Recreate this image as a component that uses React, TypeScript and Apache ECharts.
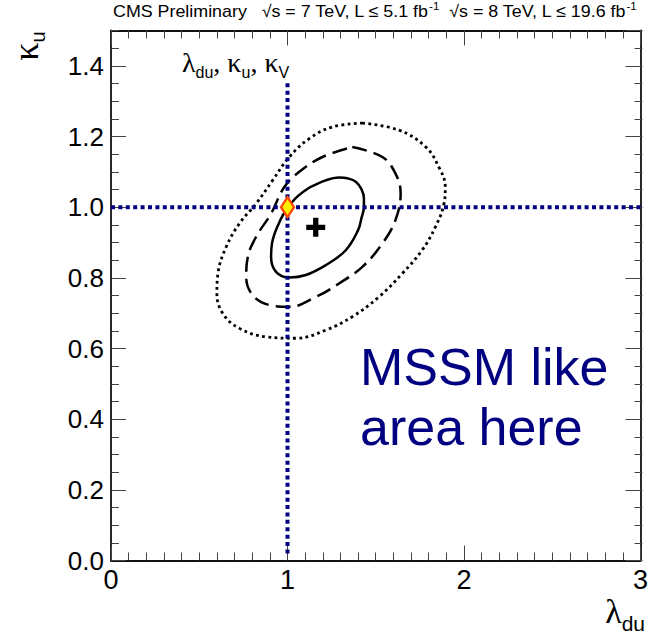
import React, { useEffect, useRef } from "react";
import * as echarts from "echarts";

// Axis ranges of the coupling plane
const xRange = [0, 3];
const yRange = [0, 1.5];

// Likelihood contours in the (lambda_du, kappa_u) plane
const contour68: [number, number][] = [
  [1.123, 1.055], [1.217, 1.076], [1.292, 1.084], [1.345, 1.081], [1.387, 1.072],
  [1.419, 1.051], [1.433, 1.025], [1.433, 1.000], [1.419, 0.969], [1.400, 0.935],
  [1.330, 0.878], [1.217, 0.836], [1.104, 0.808], [1.010, 0.801], [0.935, 0.817],
  [0.907, 0.859], [0.913, 0.900], [0.940, 0.942], [0.985, 0.987], [1.045, 1.025],
  [1.123, 1.055],
];

const contour95: [number, number][] = [
  [1.367, 1.170], [1.537, 1.142], [1.612, 1.095], [1.641, 1.039], [1.612, 0.964],
  [1.537, 0.897], [1.424, 0.831], [1.292, 0.784], [1.161, 0.746], [1.010, 0.718],
  [0.897, 0.723], [0.803, 0.751], [0.766, 0.803], [0.775, 0.859], [0.822, 0.916],
  [0.907, 0.982], [0.982, 1.057], [1.067, 1.100], [1.198, 1.142], [1.367, 1.170],
];

const contour997: [number, number][] = [
  [1.424, 1.238], [1.631, 1.218], [1.782, 1.171], [1.857, 1.114], [1.894, 1.057],
  [1.885, 1.006], [1.838, 0.944], [1.762, 0.878], [1.650, 0.812], [1.518, 0.746],
  [1.367, 0.690], [1.217, 0.652], [1.048, 0.629], [0.879, 0.633], [0.728, 0.657],
  [0.634, 0.699], [0.600, 0.756], [0.606, 0.812], [0.653, 0.888], [0.728, 0.954],
  [0.822, 1.010], [0.916, 1.076], [1.010, 1.142], [1.123, 1.194], [1.254, 1.227],
  [1.424, 1.238],
];

// Best fit and Standard Model point
const bestFit: [number, number][] = [[1.16, 0.943]];
const smPoint: [number, number][] = [[1.0, 1.0]];

// Reference lines at lambda_du = 1 and kappa_u = 1
const smVertical: [number, number][] = [[1.0, 0.02], [1.0, 1.36]];
const smHorizontal: [number, number][] = [[0, 1.0], [3, 1.0]];

const NAVY = "#000080";
const SANS = "Liberation Sans, Arial, Helvetica, sans-serif";
const SERIF = "Liberation Serif, Times New Roman, serif";

const GRID = { left: 111, top: 30.5, width: 531.5, height: 530 };

const tickStyle = { color: "#444", width: 1 };
const frameLine = { show: true, onZero: false, lineStyle: { color: "#111", width: 1.8 } };

function xAxisBase(position: "bottom" | "top", showLabel: boolean) {
  return {
    type: "value" as const,
    gridIndex: 0,
    position,
    min: xRange[0],
    max: xRange[1],
    interval: 1,
    axisLine: frameLine,
    axisTick: { show: true, inside: true, length: 15, lineStyle: tickStyle },
    minorTick: { show: true, splitNumber: 10, length: 8, lineStyle: tickStyle },
    splitLine: { show: false },
    axisLabel: {
      show: showLabel,
      margin: 6,
      fontSize: 27,
      color: "#000",
      fontFamily: SANS,
      formatter: (v: number) => String(Math.round(v)),
    },
  };
}

function yAxisMajor(position: "left" | "right", showLabel: boolean) {
  return {
    type: "value" as const,
    gridIndex: 0,
    position,
    min: yRange[0],
    max: yRange[1],
    interval: 0.2,
    axisLine: frameLine,
    axisTick: { show: true, inside: true, length: 15, lineStyle: tickStyle },
    splitLine: { show: false },
    axisLabel: {
      show: showLabel,
      showMaxLabel: false,
      margin: 7,
      fontSize: 26,
      color: "#000",
      fontFamily: SANS,
      formatter: (v: number) => v.toFixed(1),
    },
  };
}

function yAxisMinor(position: "left" | "right") {
  return {
    type: "value" as const,
    gridIndex: 1,
    position,
    min: yRange[0],
    max: yRange[1],
    interval: 0.05,
    axisLine: { show: false, onZero: false },
    axisTick: { show: true, inside: true, length: 8, lineStyle: tickStyle },
    splitLine: { show: false },
    axisLabel: { show: false },
  };
}

const plusPath =
  "path://M6.5,0H11.5V6.5H18V11.5H11.5V18H6.5V11.5H0V6.5H6.5Z";

const option = {
  animation: false,
  backgroundColor: "#fff",
  grid: [
    { ...GRID },
    { ...GRID },
  ],
  xAxis: [
    xAxisBase("bottom", true),
    xAxisBase("top", false),
    { type: "value", gridIndex: 1, show: false, min: xRange[0], max: xRange[1] },
  ],
  yAxis: [
    yAxisMajor("left", true),
    yAxisMajor("right", false),
    yAxisMinor("left"),
    yAxisMinor("right"),
  ],
  series: [
    {
      name: "99.7% CL",
      type: "line",
      data: contour997,
      smooth: 0.4,
      symbol: "none",
      lineStyle: { color: "#000", width: 2.8, type: [2.8, 3.4], cap: "butt" },
      z: 3,
    },
    {
      name: "95% CL",
      type: "line",
      data: contour95,
      smooth: 0.4,
      symbol: "none",
      lineStyle: { color: "#000", width: 2.5, type: [15, 7], cap: "butt" },
      z: 3,
    },
    {
      name: "68% CL",
      type: "line",
      data: contour68,
      smooth: 0.4,
      symbol: "none",
      lineStyle: { color: "#000", width: 2.5 },
      z: 3,
    },
    {
      name: "SM lambda",
      type: "line",
      data: smVertical,
      symbol: "none",
      lineStyle: { color: NAVY, width: 4, type: [4, 3.4], cap: "butt" },
      z: 4,
    },
    {
      name: "SM kappa",
      type: "line",
      data: smHorizontal,
      symbol: "none",
      lineStyle: { color: NAVY, width: 4, type: [4, 3.4], cap: "butt" },
      z: 4,
    },
    {
      name: "Best fit",
      type: "scatter",
      data: bestFit,
      symbol: plusPath,
      symbolSize: 19,
      itemStyle: { color: "#000", opacity: 1 },
      z: 5,
    },
    {
      name: "SM",
      type: "scatter",
      data: smPoint,
      symbol: "diamond",
      symbolSize: [13, 20],
      itemStyle: { color: "#ffee00", borderColor: "#ff4a00", borderWidth: 2.5, opacity: 1 },
      z: 6,
    },
  ],
  graphic: [
    {
      type: "text",
      x: 113,
      y: 22,
      scaleX: 1.05,
      style: {
        text:
          "CMS Preliminary   √s = 7 TeV, L ≤ 5.1 fb{sup|-1}  √s = 8 TeV, L ≤ 19.6 fb{sup|-1}",
        fontFamily: SANS,
        fontSize: 17,
        fill: "#000",
        textVerticalAlign: "bottom",
        rich: {
          sup: { fontSize: 11, fontFamily: SANS, verticalAlign: "top", lineHeight: 21 },
        },
      },
    },
    {
      type: "text",
      x: 28,
      y: 46,
      rotation: Math.PI / 2,
      style: {
        text: "{g|κ}{s|u}",
        textAlign: "center",
        textVerticalAlign: "middle",
        rich: {
          g: { fontFamily: SERIF, fontSize: 36, lineHeight: 40, verticalAlign: "top", fill: "#000" },
          s: { fontFamily: SANS, fontSize: 20, lineHeight: 22, verticalAlign: "bottom", fill: "#000" },
        },
      },
    },
    {
      type: "text",
      x: 645,
      y: 634,
      style: {
        text: "{g|λ}{s|du}",
        textAlign: "right",
        textVerticalAlign: "bottom",
        rich: {
          g: { fontFamily: SERIF, fontSize: 34, lineHeight: 40, verticalAlign: "top", fill: "#000" },
          s: { fontFamily: SANS, fontSize: 21, lineHeight: 22, verticalAlign: "bottom", fill: "#000" },
        },
      },
    },
    {
      type: "text",
      x: 182,
      y: 48,
      style: {
        text: "{g|λ}{s|du}{g|, κ}{s|u}{g|, κ}{s|V}",
        textVerticalAlign: "top",
        rich: {
          g: { fontFamily: SERIF, fontSize: 28, lineHeight: 32, verticalAlign: "top", fill: "#000" },
          s: { fontFamily: SANS, fontSize: 16, lineHeight: 18, verticalAlign: "bottom", fill: "#000" },
        },
      },
    },
    {
      type: "text",
      x: 360,
      y: 337,
      style: {
        text: "MSSM like\narea here",
        fontFamily: SANS,
        fontSize: 52,
        lineHeight: 60,
        fill: NAVY,
        textVerticalAlign: "top",
      },
    },
  ],
};

export default function App() {
  const ref = useRef<HTMLDivElement>(null);
  useEffect(() => {
    if (!ref.current) return;
    const chart = echarts.init(ref.current, null, { renderer: "svg" });
    chart.setOption(option as any);
    return () => chart.dispose();
  }, []);
  return (
    <div
      ref={ref}
      style={{ position: "absolute", left: 0, top: 0, width: 651, height: 635 }}
    />
  );
}
